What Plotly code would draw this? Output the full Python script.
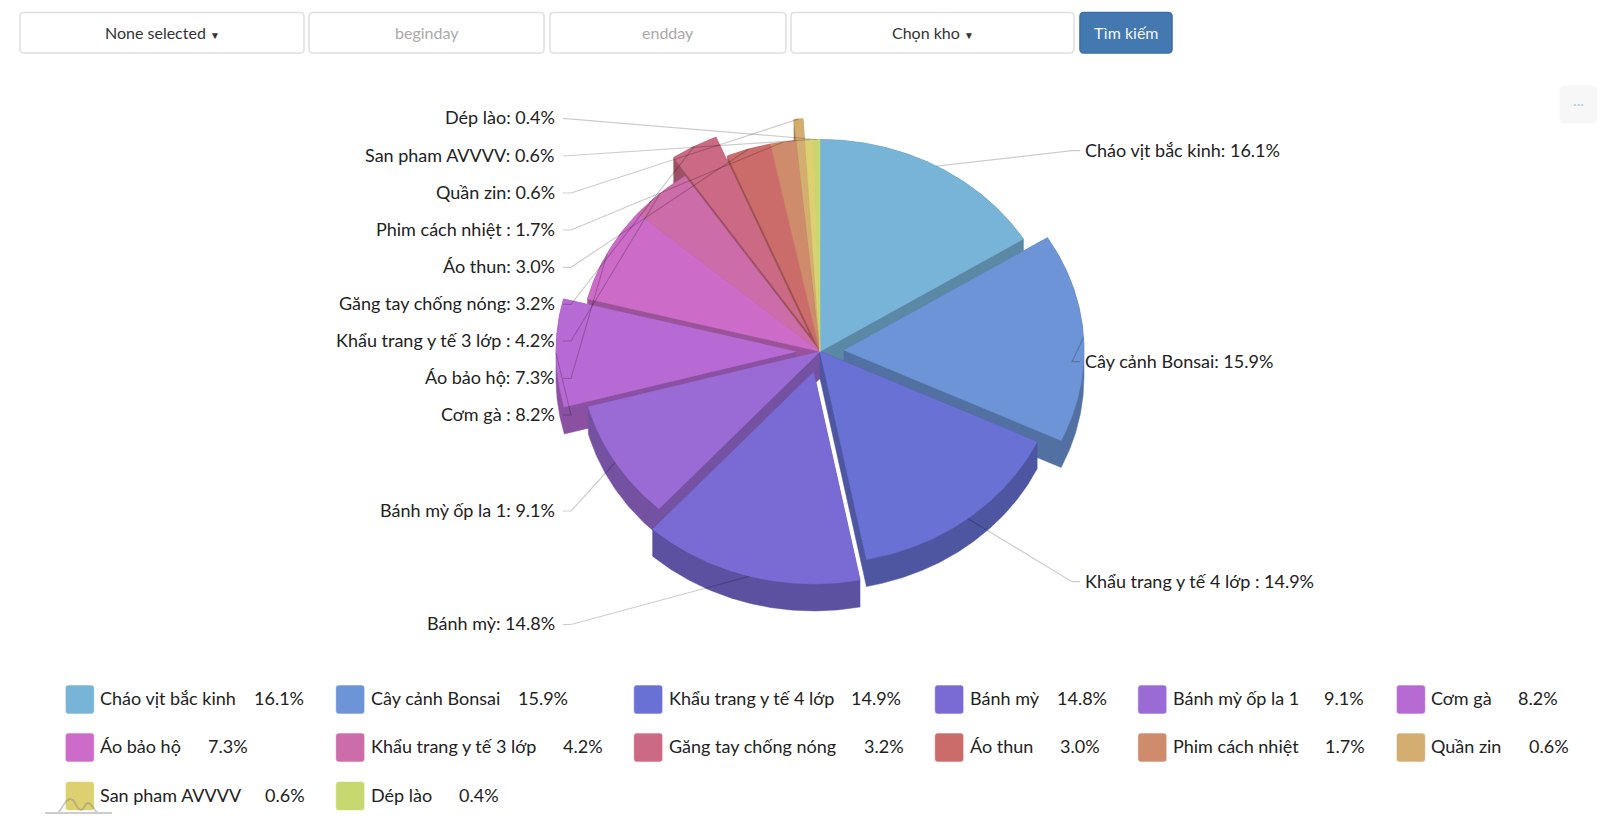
import math
import plotly.graph_objects as go

# ---------- data ----------
categories = ["Cháo vịt bắc kinh", "Cây cảnh Bonsai", "Khẩu trang y tế 4 lớp", "Bánh mỳ", "Bánh mỳ ốp la 1",
              "Cơm gà", "Áo bảo hộ", "Khẩu trang y tế 3 lớp", "Găng tay chống nóng", "Áo thun",
              "Phim cách nhiệt", "Quần zin", "San pham AVVVV", "Dép lào"]
slice_labels = ["Cháo vịt bắc kinh", "Cây cảnh Bonsai", "Khẩu trang y tế 4 lớp ", "Bánh mỳ", "Bánh mỳ ốp la 1",
                "Cơm gà ", "Áo bảo hộ", "Khẩu trang y tế 3 lớp ", "Găng tay chống nóng", "Áo thun",
                "Phim cách nhiệt ", "Quần zin", "San pham AVVVV", "Dép lào"]
percent = [16.1, 15.9, 14.9, 14.8, 9.1, 8.2, 7.3, 4.2, 3.2, 3.0, 1.7, 0.6, 0.6, 0.4]

# ---------- style ----------
colors = ["#78B4D8", "#6D94D6", "#6972D4", "#7A6AD4", "#9A6BD4", "#B86AD4", "#CC6CC8",
          "#CC6CA8", "#CC6A85", "#CC6C6A", "#CF8C6C", "#D4AE70", "#DDD070", "#C8D870"]
pulled = [0, 1, 0, 1, 0, 1, 0, 0, 1, 0, 0, 1, 0, 0]
label_y = [150.7, 361.7, 581.7, 624.5, 511, 415, 378.3, 341, 304.3, 267.3, 230, 193, 156, 118.3]
legend_col_x = [65.3, 335.7, 633.7, 934.7, 1137.8, 1396.4]
legend_row_y = [699.5, 747.5, 796]
legend_value_right = [303.6, 568, 901, 1106.6, 1363.8, 1558,
                      248, 602.6, 903.6, 1100, 1364.8, 1568.9,
                      304.6, 499]
FONT = "Lato"
TXT = "#222222"
LABEL_SIZE = 18
TEXT_LIFT = 1.2

CX, CY, RX, RY, PULL, DEPTH = 820, 351.5, 240, 212, 24, 27
YK = RY / RX


def darken(h, k=0.76):
    return "#%02X%02X%02X" % tuple(int(int(h[i:i + 2], 16) * k) for i in (1, 3, 5))


def hull(pts):
    pts = sorted(set(pts))
    def half(seq):
        out = []
        for p in seq:
            while len(out) > 1 and ((out[-1][0]-out[-2][0])*(p[1]-out[-2][1]) - (out[-1][1]-out[-2][1])*(p[0]-out[-2][0])) <= 0:
                out.pop()
            out.append(p)
        return out[:-1]
    return half(pts) + half(pts[::-1])


total = sum(percent)
slices = []
acc = 0
for i, v in enumerate(percent):
    a0, a1 = acc / total * 360, (acc + v) / total * 360
    acc += v
    mid = math.radians((a0 + a1) / 2)
    dx = PULL * pulled[i] * math.sin(mid)
    dy = -PULL * pulled[i] * math.cos(mid) * YK
    n = max(2, int((a1 - a0) * 2))
    arc = [(CX + dx + RX * math.sin(math.radians(a0 + (a1 - a0) * k / n)),
            CY + dy - RY * math.cos(math.radians(a0 + (a1 - a0) * k / n))) for k in range(n + 1)]
    top = [(CX + dx, CY + dy)] + arc
    anchor = (CX + dx + RX * math.sin(mid), CY + dy - RY * math.cos(mid))
    slices.append(dict(i=i, top=top, anchor=anchor, depth_key=CY + dy - 0.5 * RY * math.cos(mid)))

fig = go.Figure()

# walls, back to front
for s in sorted(slices, key=lambda q: q["depth_key"]):
    pts = hull(s["top"] + [(x, y + DEPTH) for x, y in s["top"]])
    pts.append(pts[0])
    col = darken(colors[s["i"]])
    fig.add_trace(go.Scatter(x=[p[0] for p in pts], y=[p[1] for p in pts], mode="lines", fill="toself",
                             fillcolor=col, line=dict(color=col, width=0.5), hoverinfo="skip", showlegend=False))
# top faces
for s in slices:
    i = s["i"]
    pts = s["top"] + [s["top"][0]]
    fig.add_trace(go.Scatter(x=[p[0] for p in pts], y=[p[1] for p in pts], mode="lines", fill="toself",
                             fillcolor=colors[i], line=dict(color=colors[i], width=0.5),
                             name=categories[i], hoveron="fills",
                             text=f"{categories[i]}: {percent[i]:.1f}%", hoverinfo="text", showlegend=False))
# leader lines
for s in slices:
    i = s["i"]
    ax, ay = s["anchor"]
    right = ax > CX
    xa, xb = (1072, 1080) if right else (571, 563)
    fig.add_trace(go.Scatter(x=[ax, xa, xb], y=[ay, label_y[i], label_y[i]], mode="lines",
                             line=dict(color="rgba(0,0,0,0.2)", width=1.2), hoverinfo="skip", showlegend=False))

annotations = []
shapes = []


def text(x, y, s, anchor="left", size=LABEL_SIZE, color=TXT):
    annotations.append(dict(x=x, y=y - TEXT_LIFT, xref="x", yref="y", text=s, showarrow=False, xanchor=anchor,
                            yanchor="middle", font=dict(family=FONT, size=size, color=color),
                            borderpad=0, borderwidth=0))


def rrect(x0, y0, x1, y1, r, fill, line, lw=1):
    p = (f"M{x0+r},{y0} L{x1-r},{y0} Q{x1},{y0} {x1},{y0+r} L{x1},{y1-r} Q{x1},{y1} {x1-r},{y1} "
         f"L{x0+r},{y1} Q{x0},{y1} {x0},{y1-r} L{x0},{y0+r} Q{x0},{y0} {x0+r},{y0} Z")
    shapes.append(dict(type="path", path=p, xref="x", yref="y", fillcolor=fill,
                       line=dict(color=line, width=lw), layer="above"))


# slice labels
for s in slices:
    i = s["i"]
    lbl = f"{slice_labels[i]}: {percent[i]:.1f}%"
    if s["anchor"][0] > CX:
        text(1085, label_y[i], lbl, "left")
    else:
        text(555, label_y[i], lbl, "right")

# legend
for i, name in enumerate(categories):
    c, r = i % 6, i // 6
    x, y = legend_col_x[c], legend_row_y[r]
    rrect(x, y - 14.5, x + 29, y + 14.5, 3, colors[i], "rgba(255,255,255,0.6)", 1)
    text(x + 35, y, name, "left")
    text(legend_value_right[i], y, f"{percent[i]:.1f}%", "right")

# controls
CARET = ' <span style="font-size:10px">▼</span>'
controls = [(20, 304, "None selected" + CARET, "#333333"), (309, 544, "beginday", "#aaaaaa"),
            (550, 786, "endday", "#aaaaaa"), (791, 1074, "Chọn kho" + CARET, "#333333")]
for x0, x1, s, col in controls:
    rrect(x0, 12.5, x1, 53, 4, "#ffffff", "#E0E0E0", 1.6)
    text((x0 + x1) / 2, 33.5, s, "center", 16, col)
rrect(1080, 12.5, 1172, 53, 4, "#4478B0", "#3F6FA6", 1.6)
text(1126, 33.5, "Tìm kiếm", "center", 16, "#F4F4F4")

# export button
rrect(1560, 86, 1597, 123, 5, "#F7F7F7", "#F7F7F7", 1)
text(1578.5, 105, "···", "center", 14, "#B8CDE0")

# logo watermark
shapes.append(dict(type="path", xref="x", yref="y", layer="above", line=dict(color="rgba(130,130,130,0.4)", width=2),
                   path="M45,813 L112,813 M58,813 C63,808 65,799 70,799 C76,799 76,810 81,810 C84,810 85,803 88,803 C92,803 93,810 98,813"))

fig.update_layout(
    width=1600, height=826, margin=dict(l=0, r=0, t=0, b=0),
    paper_bgcolor="white", plot_bgcolor="white", showlegend=False,
    xaxis=dict(range=[0, 1600], visible=False, fixedrange=True),
    yaxis=dict(range=[826, 0], visible=False, fixedrange=True),
    annotations=annotations, shapes=shapes,
    hoverlabel=dict(font_family=FONT),
)
fig.write_html("out.html", config=dict(displayModeBar=False),
               post_script="document.body.style.margin='0';document.body.style.overflow='hidden';")
